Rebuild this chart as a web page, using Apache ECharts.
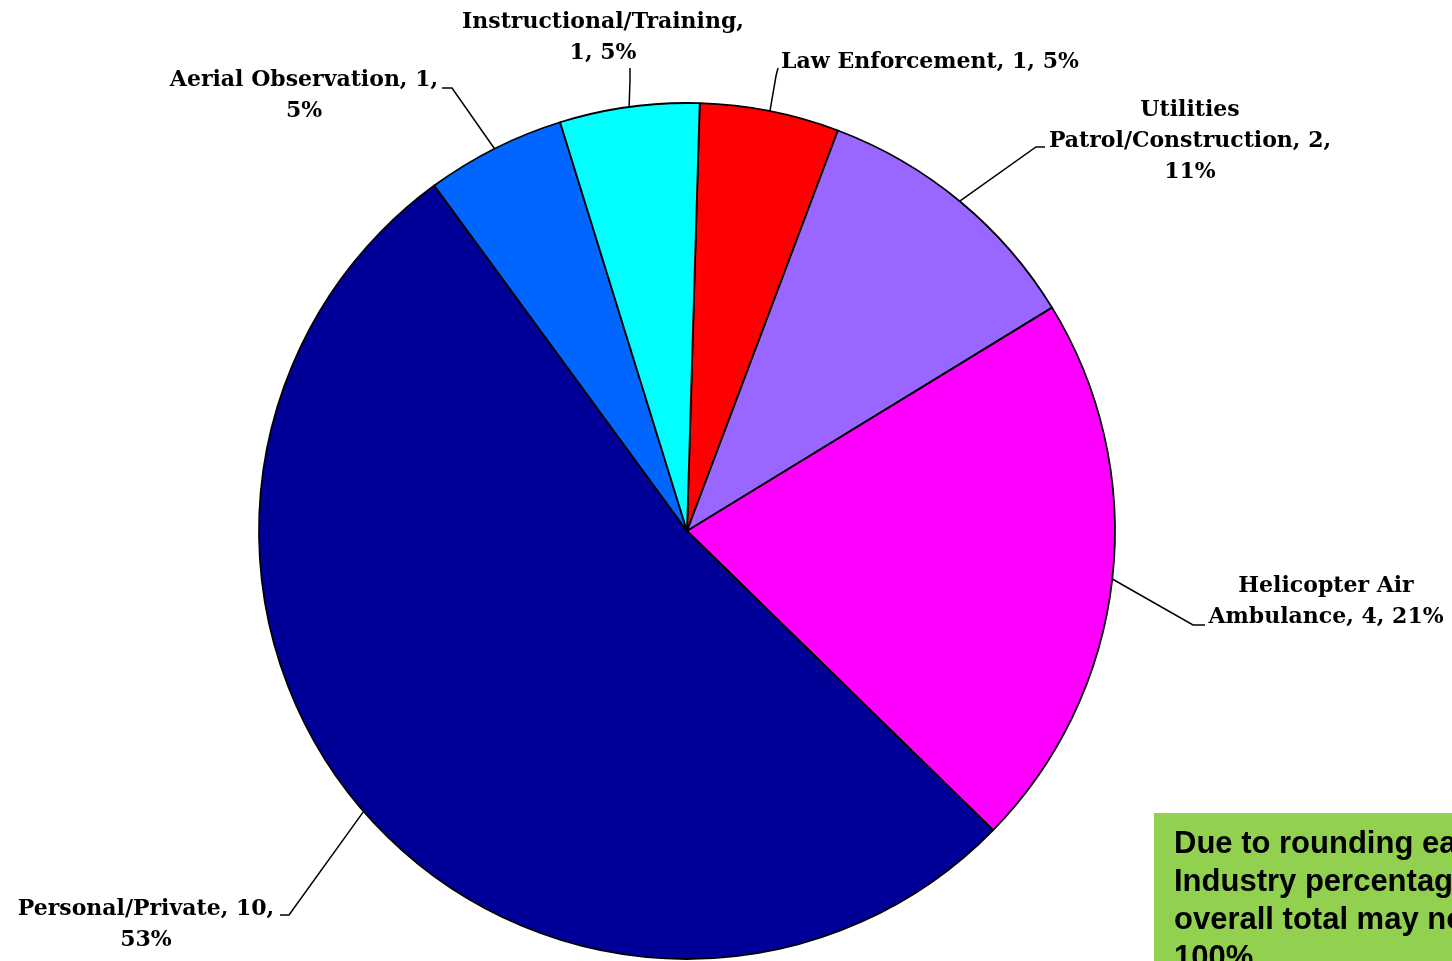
<!DOCTYPE html>
<html>
<head>
<meta charset="utf-8">
<script src="https://cdn.jsdelivr.net/npm/echarts@6/dist/echarts.min.js"></script>
<style>html,body{margin:0;padding:0;background:#fff;}#chart{width:1452px;height:961px;}</style>
</head>
<body>
<div id="chart"></div>
<script>
// Data (clockwise from top)
const categories = ['Law Enforcement', 'Utilities Patrol/Construction', 'Helicopter Air Ambulance', 'Personal/Private', 'Aerial Observation', 'Instructional/Training'];
const values = [1, 2, 4, 10, 1, 1];
const colors = ['#FF0000', '#9966FF', '#FF00FF', '#000099', '#0066FF', '#00FFFF'];
// label wording with line breaks as in the reference
const labelTemplates = [
  'Law Enforcement, {v}, {p}%',
  'Utilities\nPatrol/Construction, {v},\n{p}%',
  'Helicopter Air\nAmbulance, {v}, {p}%',
  'Personal/Private, {v},\n{p}%',
  'Aerial Observation, {v},\n{p}%',
  'Instructional/Training,\n{v}, {p}%'
];
// label placement (centre of text block) and leader-line bends
const labelPos = [
  {x: 930, y: 62, line: [[776, 76], [778, 68]]},
  {x: 1190, y: 141, line: [[1036, 147], [1045, 147]]},
  {x: 1326, y: 602, line: [[1193, 625], [1205, 625]]},
  {x: 146, y: 925, line: [[289, 915], [280, 915]]},
  {x: 304, y: 96, line: [[452, 88], [442, 88]]},
  {x: 603, y: 38, line: [[630, 80], [630, 68]]}
];
const noteText = 'Due to rounding each\nIndustry percentage\noverall total may not be\n100%';

const total = values.reduce((a, b) => a + b, 0);
const chart = echarts.init(document.getElementById('chart'));
chart.setOption({
  backgroundColor: '#fff',
  animation: false,
  series: [{
    type: 'pie',
    center: [687, 531],
    radius: 428,
    startAngle: 88.3,
    clockwise: true,
    avoidLabelOverlap: false,
    itemStyle: {borderColor: '#000', borderWidth: 1.8},
    label: {
      show: true,
      position: 'outside',
      fontFamily: 'DejaVu Serif',
      fontWeight: 'bold',
      fontSize: 22,
      lineHeight: 31,
      color: '#000',
      align: 'center',
      formatter: p => labelTemplates[p.dataIndex].replace('{v}', p.value).replace('{p}', Math.round(p.value / total * 100))
    },
    labelLine: {show: true, length: 20, length2: 10, lineStyle: {color: '#000', width: 1.5}},
    labelLayout: function (params) {
      const lp = labelPos[params.dataIndex];
      const pts = params.labelLinePoints;
      const start = pts ? pts[0] : lp.line[0];
      return {
        x: lp.x, y: lp.y, align: 'center', verticalAlign: 'middle',
        labelLinePoints: [start, lp.line[0], lp.line[1]]
      };
    },
    data: categories.map((c, i) => ({name: c, value: values[i], itemStyle: {color: colors[i]}}))
  }],
  graphic: [
    {type: 'rect', shape: {x: 1154, y: 813, width: 400, height: 200}, style: {fill: '#92D050'}},
    {type: 'text', x: 1174, y: 825, style: {text: noteText, fontFamily: 'Liberation Sans', fontWeight: 'bold', fontSize: 31, lineHeight: 38, fill: '#000'}}
  ]
});
</script>
</body>
</html>
